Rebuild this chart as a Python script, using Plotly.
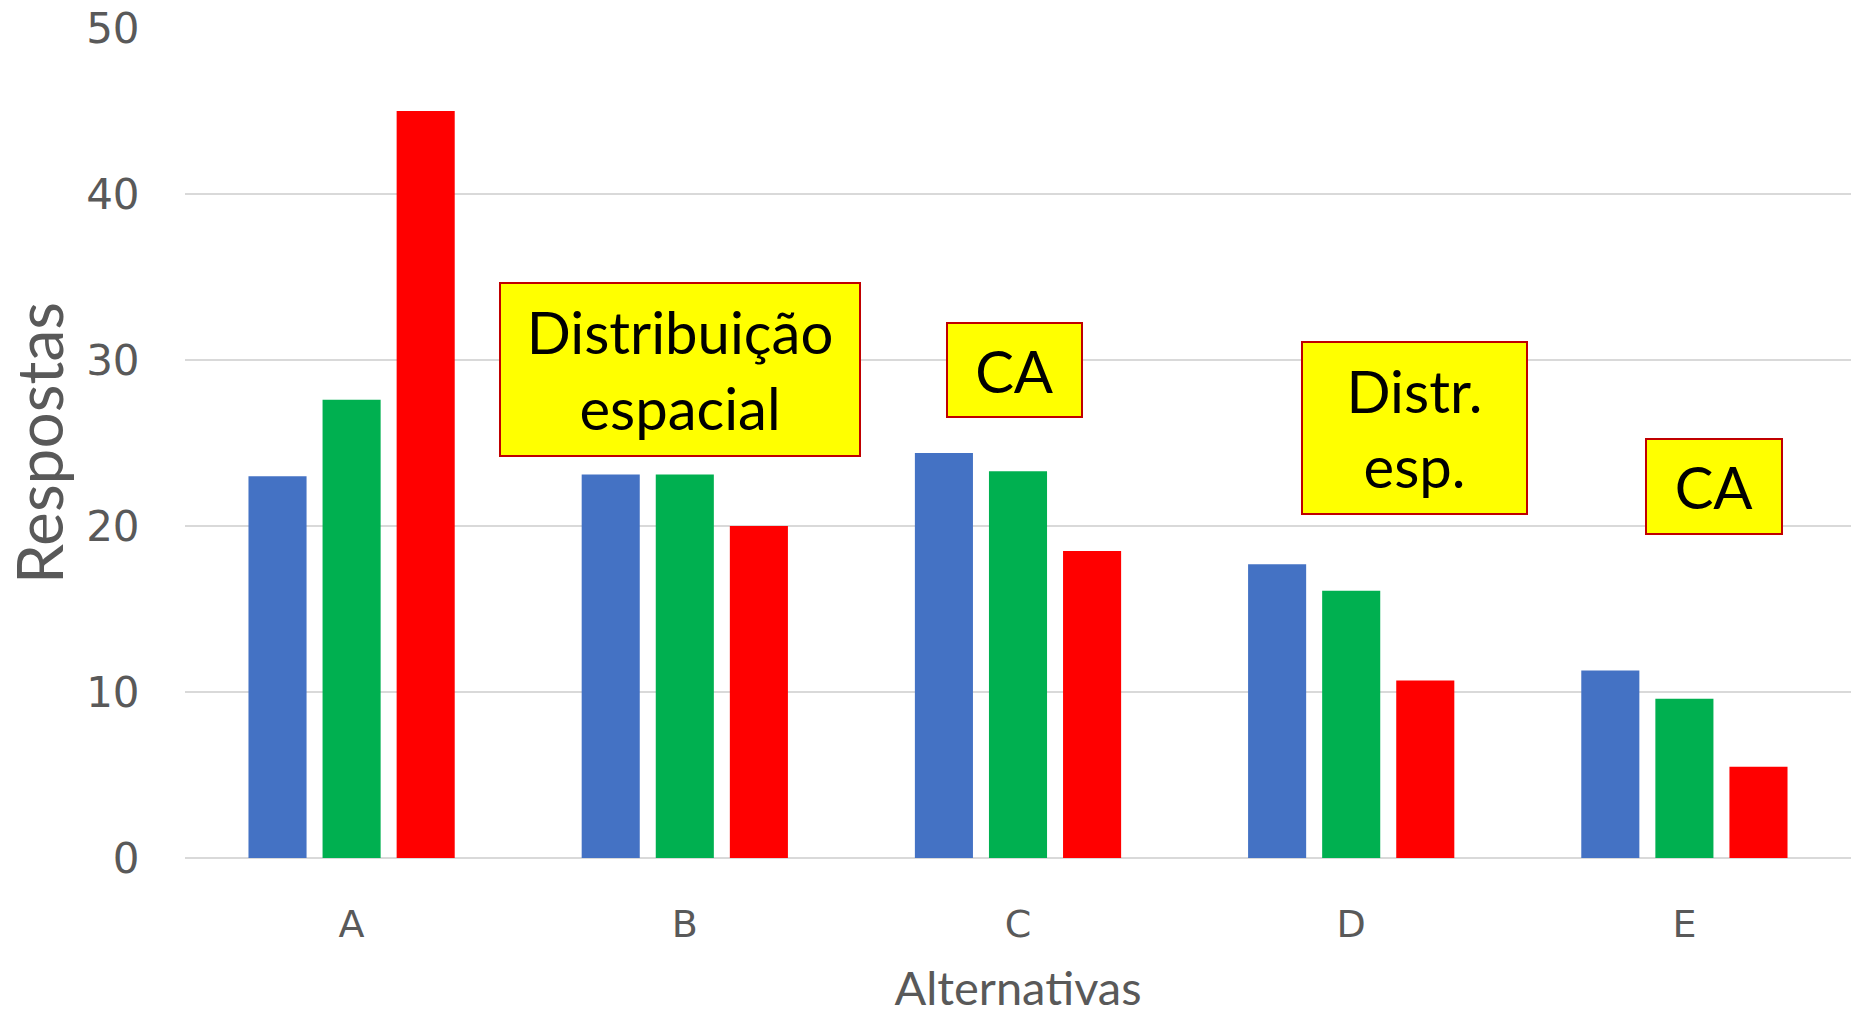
import plotly.graph_objects as go

# Answer alternatives and responses per group
alternativas = ["A", "B", "C", "D", "E"]
serie_azul = [23.0, 23.1, 24.4, 17.7, 11.3]
serie_verde = [27.6, 23.1, 23.3, 16.1, 9.6]
serie_vermelha = [45.0, 20.0, 18.5, 10.7, 5.5]

cores = ["#4472C4", "#00B050", "#FF0000"]

# Callout labels: text, x position (category index), y position
rotulos = ["Distribuição<br>espacial", "CA", "Distr.<br>esp.", "CA"]
rotulo_x = [0.985, 1.99, 3.19, 4.09]
rotulo_y = [29.4, 29.4, 25.9, 22.4]
rotulo_w = [358, 133, 223, 134]
rotulo_h = [171, 92, 170, 93]

fig = go.Figure()
for valores, cor in zip([serie_azul, serie_verde, serie_vermelha], cores):
    fig.add_trace(go.Bar(x=alternativas, y=valores, marker=dict(color=cor, line=dict(width=0))))

for txt, x, y, w, h in zip(rotulos, rotulo_x, rotulo_y, rotulo_w, rotulo_h):
    fig.add_annotation(
        x=x, y=y, xref="x", yref="y", text=txt, showarrow=False,
        font=dict(family="Lato", size=58, color="#000000"),
        bgcolor="#FFFF00", bordercolor="#C00000", borderwidth=2, borderpad=0,
        width=w, height=h, align="center", valign="middle",
        xanchor="center", yanchor="middle",
    )

fig.update_layout(
    width=1856, height=1015,
    margin=dict(l=185, r=5, t=28, b=157),
    paper_bgcolor="white", plot_bgcolor="white",
    showlegend=False,
    barmode="group", bargap=0.333, bargroupgap=0.216,
)
fig.update_xaxes(
    showgrid=False, showline=False, zeroline=False,
    ticks="outside", ticklen=32, tickcolor="rgba(0,0,0,0)",
    tickfont=dict(family="DejaVu Sans", size=38, color="#595959"),
    title=dict(text="Alternativas", standoff=30,
               font=dict(family="Lato", size=47, color="#595959")),
)
fig.update_yaxes(
    range=[0, 50], dtick=10,
    showgrid=True, gridcolor="#D9D9D9", gridwidth=2,
    zeroline=True, zerolinecolor="#D9D9D9", zerolinewidth=2,
    showline=False,
    ticks="outside", ticklen=36, tickcolor="rgba(0,0,0,0)",
    tickfont=dict(family="DejaVu Sans", size=42, color="#595959"),
    title=dict(text="Respostas", standoff=16,
               font=dict(family="Lato", size=64, color="#595959")),
)

fig.write_html("out.html")
